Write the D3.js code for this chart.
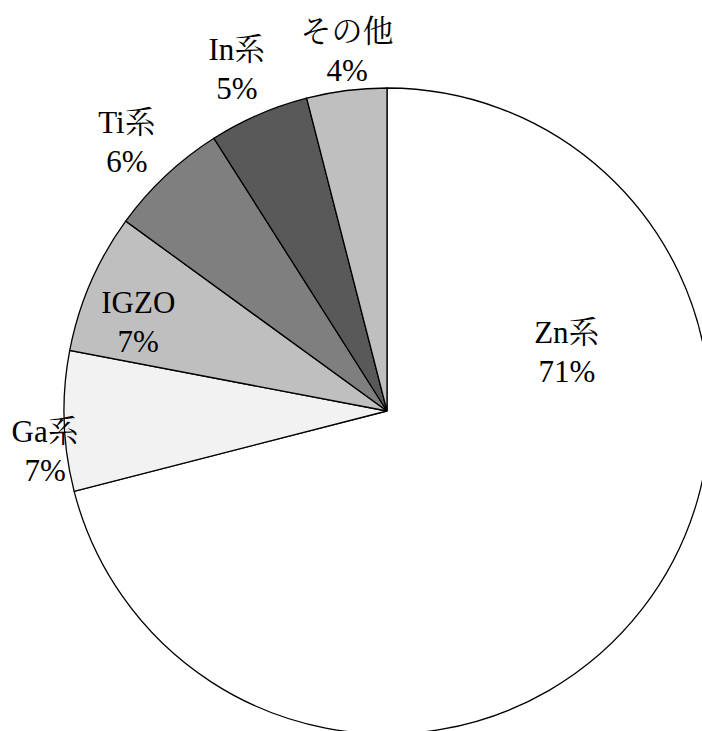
<!DOCTYPE html>
<html>
<head>
<meta charset="utf-8">
<script src="https://cdn.jsdelivr.net/npm/d3@7/dist/d3.min.js"></script>
</head>
<body style="margin:0">
<svg id="s" width="702" height="731"></svg>
<script>
// Share by material type (%), clockwise from 12 o'clock
const categories = ["Zn系", "Ga系", "IGZO", "Ti系", "In系", "その他"];
const shares = [71, 7, 7, 6, 5, 4];

// Slice fills (grey scale)
const fills = ["#ffffff", "#f2f2f2", "#bfbfbf", "#7f7f7f", "#595959", "#bfbfbf"];
// Label placement: distance from centre (fraction of radius) and angular nudge (degrees)
const labelRadius = [0.588, 1.065, 0.82, 1.163, 1.161, 1.127];
const labelShift = [-56.5, -4.5, -3.3, -0.6, -0.2, 0.9];

const FONT = '"Liberation Serif", "Noto Serif CJK JP"';
const cx = 387, cy = 411, R = 323;

const s = d3.select("#s");

const data = categories.map((c, i) => ({ name: c, value: shares[i], fill: fills[i], lr: labelRadius[i], ls: labelShift[i] }));

const pie = d3.pie().sort(null).value(d => d.value).startAngle(0).endAngle(2 * Math.PI);
const arc = d3.arc().innerRadius(0).outerRadius(R);
const arcs = pie(data);

// Slices
s.append("g")
  .attr("transform", `translate(${cx},${cy})`)
  .selectAll("path")
  .data(arcs)
  .enter().append("path")
  .attr("d", arc)
  .attr("fill", d => d.data.fill)
  .attr("stroke", "#000")
  .attr("stroke-width", 1.3);

// Label anchor point for each slice
function anchor(d) {
  const a = (d.startAngle + d.endAngle) / 2 + d.data.ls * Math.PI / 180;
  const r = d.data.lr * R;
  return [cx + r * Math.sin(a), cy - r * Math.cos(a)];
}

const fontSize = 31, lineGap = 39;

arcs.forEach(d => {
  const [x, y] = anchor(d);
  s.append("text")
    .attr("x", x).attr("y", y - 7)
    .attr("text-anchor", "middle")
    .attr("font-size", fontSize)
    .style("font-family", FONT)
    .text(d.data.name);
  s.append("text")
    .attr("x", x).attr("y", y - 7 + lineGap)
    .attr("text-anchor", "middle")
    .attr("font-size", fontSize)
    .style("font-family", FONT)
    .text(d3.format(".0f")(d.data.value) + "%");
});
</script>
</body>
</html>
